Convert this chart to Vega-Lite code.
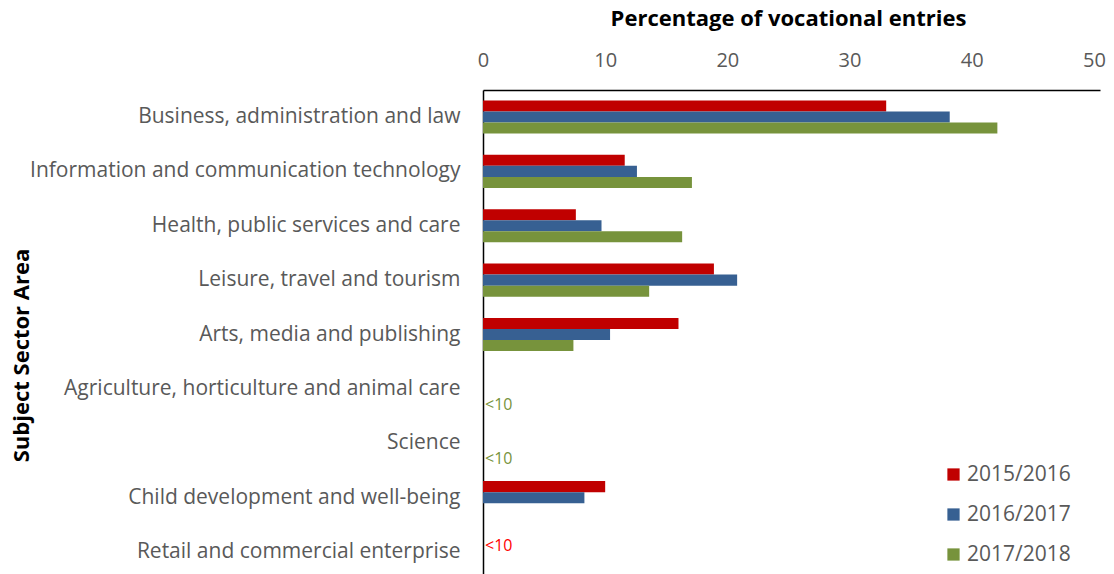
{
  "$schema": "https://vega.github.io/schema/vega-lite/v6.json",
  "width": 617,
  "height": 484,
  "autosize": {"type": "none"},
  "padding": {"left": 483, "top": 90, "right": 14, "bottom": 0},
  "background": "white",
  "config": {
    "font": "Open Sans",
    "view": {"stroke": null},
    "axis": {"grid": false, "ticks": false, "tickSize": 0}
  },
  "data": {
    "values": [
      {"area": "Business, administration and law", "year": "2015/2016", "pct": 33.0},
      {"area": "Business, administration and law", "year": "2016/2017", "pct": 38.2},
      {"area": "Business, administration and law", "year": "2017/2018", "pct": 42.1},
      {"area": "Information and communication technology", "year": "2015/2016", "pct": 11.6},
      {"area": "Information and communication technology", "year": "2016/2017", "pct": 12.6},
      {"area": "Information and communication technology", "year": "2017/2018", "pct": 17.1},
      {"area": "Health, public services and care", "year": "2015/2016", "pct": 7.6},
      {"area": "Health, public services and care", "year": "2016/2017", "pct": 9.7},
      {"area": "Health, public services and care", "year": "2017/2018", "pct": 16.3},
      {"area": "Leisure, travel and tourism", "year": "2015/2016", "pct": 18.9},
      {"area": "Leisure, travel and tourism", "year": "2016/2017", "pct": 20.8},
      {"area": "Leisure, travel and tourism", "year": "2017/2018", "pct": 13.6},
      {"area": "Arts, media and publishing", "year": "2015/2016", "pct": 16.0},
      {"area": "Arts, media and publishing", "year": "2016/2017", "pct": 10.4},
      {"area": "Arts, media and publishing", "year": "2017/2018", "pct": 7.4},
      {"area": "Agriculture, horticulture and animal care", "year": "2017/2018", "pct": null, "note": "<10"},
      {"area": "Science", "year": "2017/2018", "pct": null, "note": "<10"},
      {"area": "Child development and well-being", "year": "2015/2016", "pct": 10.0},
      {"area": "Child development and well-being", "year": "2016/2017", "pct": 8.3},
      {"area": "Retail and commercial enterprise", "year": "2015/2016", "pct": null, "note": "<10"}
    ]
  },
  "encoding": {
    "y": {
      "field": "area",
      "type": "nominal",
      "sort": null,
      "scale": {
        "domain": [
          "Business, administration and law",
          "Information and communication technology",
          "Health, public services and care",
          "Leisure, travel and tourism",
          "Arts, media and publishing",
          "Agriculture, horticulture and animal care",
          "Science",
          "Child development and well-being",
          "Retail and commercial enterprise"
        ],
        "paddingInner": 0.39,
        "paddingOuter": 0.145,
        "align": 0.66
      },
      "axis": {
        "title": "Subject Sector Area",
        "titleFontSize": 22,
        "titleFontWeight": "bold",
        "titleColor": "black",
        "titleX": -450,
        "titleY": 265,
        "labelFontSize": 21,
        "labelColor": "#595959",
        "labelPadding": 23,
        "labelLimit": 500,
        "domainColor": "black",
        "domainWidth": 1.5
      }
    },
    "yOffset": {
      "field": "year",
      "type": "nominal",
      "scale": {"domain": ["2015/2016", "2016/2017", "2017/2018"], "paddingInner": 0}
    }
  },
  "layer": [
    {
      "transform": [{"filter": "isValid(datum.pct)"}],
      "mark": {"type": "bar"},
      "encoding": {
        "x": {
          "field": "pct",
          "type": "quantitative",
          "scale": {"domain": [0, 50.5], "nice": false},
          "axis": {
            "orient": "top",
            "title": "Percentage of vocational entries",
            "titleFontSize": 22,
            "titleFontWeight": "bold",
            "titleColor": "black",
            "titleX": 305,
            "titleY": -60,
            "values": [0, 10, 20, 30, 40, 50],
            "labelFontSize": 20,
            "labelColor": "#595959",
            "labelPadding": 20,
            "labelFlush": false,
            "domainColor": "black",
            "domainWidth": 1.5
          }
        },
        "color": {
          "field": "year",
          "type": "nominal",
          "scale": {"domain": ["2015/2016", "2016/2017", "2017/2018"], "range": ["#C00000", "#376092", "#77933C"]},
          "legend": {
            "title": null,
            "orient": "none",
            "legendX": 460,
            "legendY": 374,
            "symbolType": "square",
            "symbolSize": 150,
            "symbolStrokeWidth": 0,
            "labelFontSize": 21,
            "labelColor": "#595959",
            "rowPadding": 18,
            "labelOffset": 3
          }
        }
      }
    },
    {
      "transform": [{"filter": "isValid(datum.note)"}],
      "mark": {"type": "text", "align": "left", "baseline": "middle", "dx": 2, "dy": 5, "fontSize": 16},
      "encoding": {
        "x": {"datum": 0, "type": "quantitative"},
        "text": {"field": "note"},
        "color": {
          "field": "year",
          "type": "nominal",
          "scale": {"domain": ["2015/2016", "2016/2017", "2017/2018"], "range": ["#FF0000", "#376092", "#77933C"]},
          "legend": null
        }
      }
    }
  ],
  "resolve": {"scale": {"color": "independent"}}
}
